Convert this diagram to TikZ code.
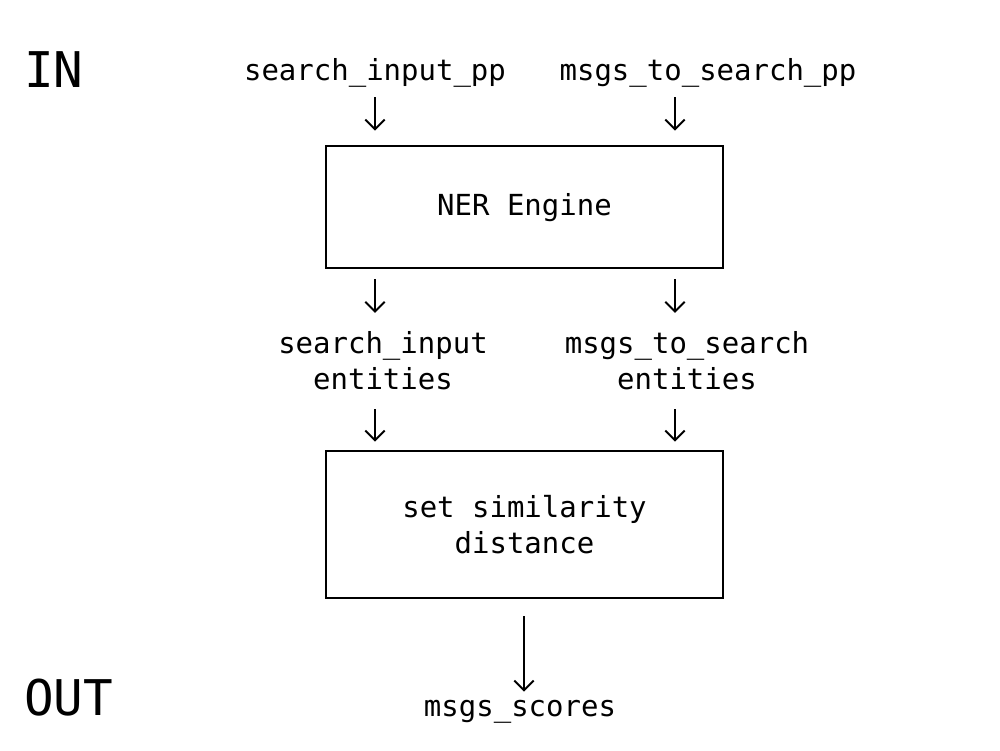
\documentclass[tikz,border=0pt]{standalone}
\usepackage{fontspec}
\setmonofont{DejaVu Sans Mono}
\usetikzlibrary{arrows.meta,positioning,calc}

\begin{document}
\begin{tikzpicture}[
    lbl/.style={font=\ttfamily\fontsize{16.5}{20.5}\selectfont, align=center, inner sep=2pt},
    side/.style={font=\ttfamily\fontsize{28}{32}\selectfont, inner sep=0pt},
    box/.style={draw, line width=1.6pt, minimum width=7.94cm, align=center,
                font=\ttfamily\fontsize{16.5}{20.5}\selectfont},
    arr/.style={-{Straight Barb[length=5.5pt,width=11pt]}, line width=1.1pt}
]
    \useasboundingbox (0,0) rectangle (20,-15);

    % In / Out
    \node[side, anchor=west] (in) at (0.48,-1.4) {IN};
    \node[side, anchor=west] (out) at (0.48,-13.96) {OUT};

    % Inputs
    \node[lbl] (inp) at (7.5,-1.46) {search\_input\_pp};
    \node[lbl] (msgs) at (14.16,-1.46) {msgs\_to\_search\_pp};

    % NER Engine
    \node[box, minimum height=2.44cm, text depth=0.1cm] (ner) at (10.49,-4.14) {NER Engine};

    % Entities
    \node[lbl] (inpent) at (7.66,-7.22) {search\_input\\entities};
    \node[lbl] (msgsent) at (13.74,-7.22) {msgs\_to\_search\\entities};

    % Similarity
    \node[box, minimum height=2.94cm] (sim) at (10.49,-10.49) {set similarity\\distance};

    % Output
    \node[lbl] (scores) at (10.4,-14.24) {msgs\_scores};

    % Columns for the arrows
    \coordinate (colL) at (7.5,0);
    \coordinate (colR) at (13.5,0);

    % Arrows
    \draw[arr, shorten <=0.12cm, shorten >=0.28cm] (inp.south -| colL) -- (ner.north -| colL);
    \draw[arr, shorten <=0.12cm, shorten >=0.28cm] (msgs.south -| colR) -- (ner.north -| colR);
    \draw[arr, shorten <=0.2cm, shorten >=0.3cm] (ner.south -| colL) -- (inpent.north -| colL);
    \draw[arr, shorten <=0.2cm, shorten >=0.3cm] (ner.south -| colR) -- (msgsent.north -| colR);
    \draw[arr, shorten <=0.3cm, shorten >=0.16cm] (inpent.south -| colL) -- (sim.north -| colL);
    \draw[arr, shorten <=0.3cm, shorten >=0.16cm] (msgsent.south -| colR) -- (sim.north -| colR);
    \draw[arr, shorten <=0.34cm, shorten >=0.1cm] (sim.south -| 10.48,0) -- (scores.north -| 10.48,0);
\end{tikzpicture}
\end{document}
